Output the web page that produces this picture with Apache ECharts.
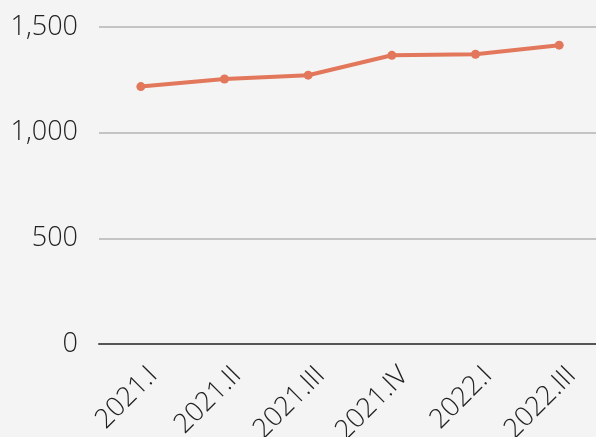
<!DOCTYPE html>
<html>
<head>
<meta charset="utf-8">
<script src="https://cdn.jsdelivr.net/npm/echarts@6/dist/echarts.min.js"></script>
<style>
  html, body { margin: 0; padding: 0; background: #f4f4f4; overflow: hidden; }
  #chart { width: 606px; height: 437px; }
</style>
</head>
<body>
<div id="chart"></div>
<script>
var quarters = ['2021.I', '2021.II', '2021.III', '2021.IV', '2022.I', '2022.III']
var values = [1218, 1254, 1272, 1366, 1371, 1414]

var chart = echarts.init(document.getElementById('chart'))
var option = {
  backgroundColor: '#f4f4f4',
  animation: false,
  grid: {
    left: 99,
    top: 27,
    right: 5,
    height: 317,
    outerBoundsMode: 'none'
  },
  xAxis: {
    type: 'category',
    data: quarters,
    boundaryGap: true,
    axisLine: { lineStyle: { color: '#555', width: 2 } },
    axisTick: { show: false },
    axisLabel: {
      rotate: 45,
      margin: 15,
      verticalAlign: 'top',
      padding: [4, 0, 0, 0],
      fontFamily: 'Open Sans',
      fontWeight: 300,
      fontSize: 27,
      color: '#222'
    }
  },
  yAxis: {
    type: 'value',
    min: 0,
    max: 1500,
    interval: 500,
    axisLine: { show: false },
    axisTick: { show: false },
    splitLine: { lineStyle: { color: '#b4b4b4', width: 1.5 } },
    axisLabel: {
      margin: 21,
      fontFamily: 'Open Sans',
      fontWeight: 300,
      fontSize: 27,
      color: '#222'
    }
  },
  series: [{
    type: 'line',
    data: values,
    symbol: 'circle',
    symbolSize: 9,
    lineStyle: { color: '#e2775b', width: 4 },
    itemStyle: { color: '#e2775b' }
  }]
}
chart.setOption(option)
</script>
</body>
</html>
